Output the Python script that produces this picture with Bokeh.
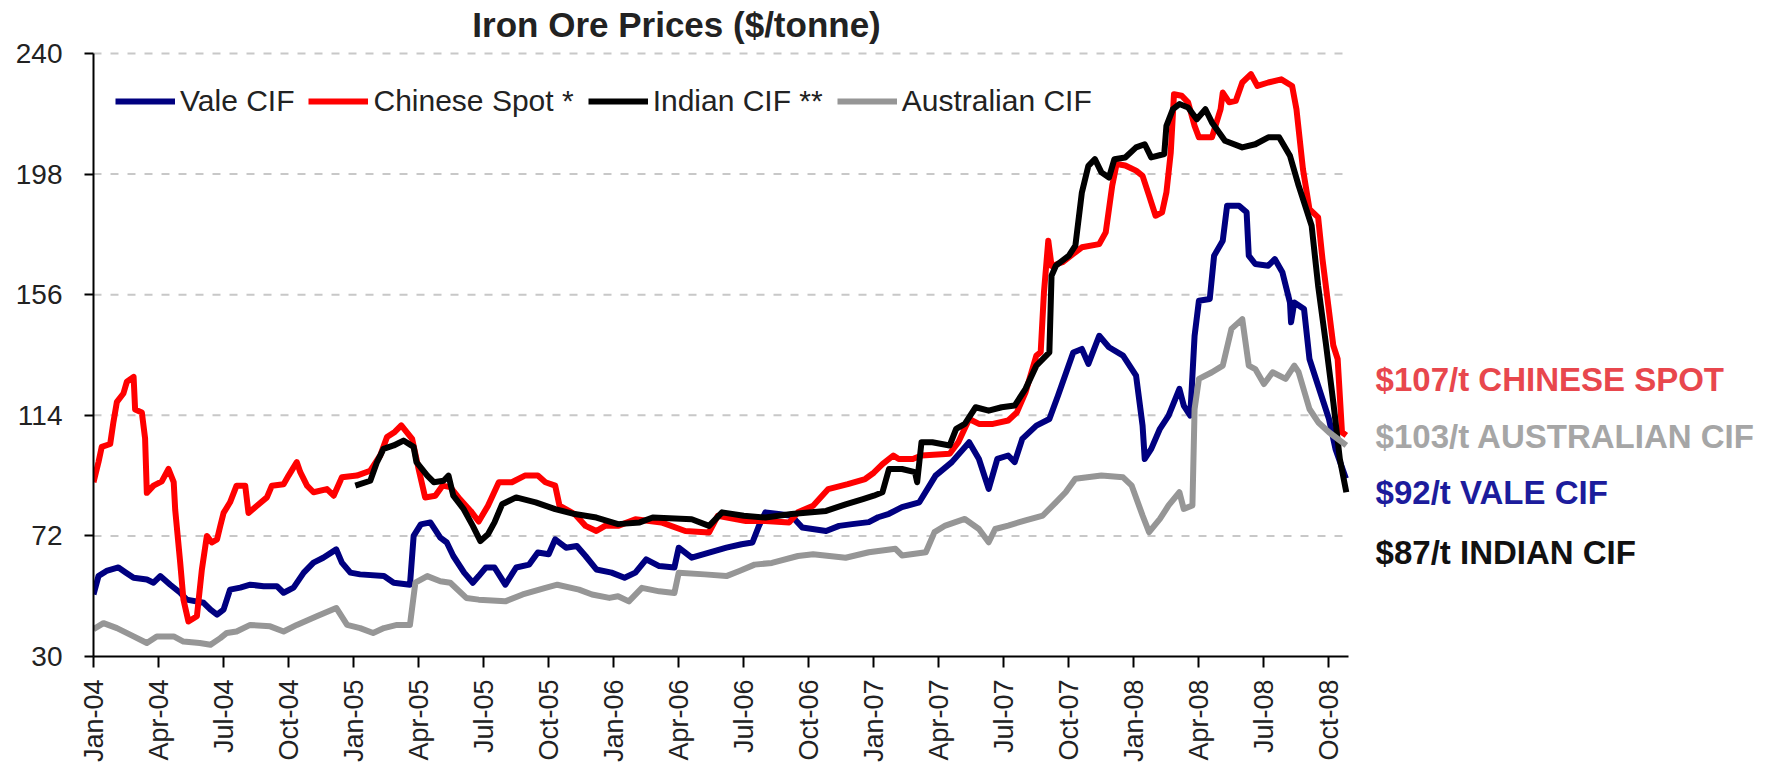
import math
from bokeh.plotting import figure
from bokeh.models import Range1d, FixedTicker, Label, Legend, LegendItem
from bokeh.embed import file_html
from bokeh.resources import INLINE

# ---------------- data (x = months since Jan-2004) ----------------
tick_months = [0, 3, 6, 9, 12, 15, 18, 21, 24, 27, 30, 33, 36, 39, 42, 45, 48, 51, 54, 57]
tick_labels = ["Jan-04", "Apr-04", "Jul-04", "Oct-04", "Jan-05", "Apr-05", "Jul-05", "Oct-05",
               "Jan-06", "Apr-06", "Jul-06", "Oct-06", "Jan-07", "Apr-07", "Jul-07", "Oct-07",
               "Jan-08", "Apr-08", "Jul-08", "Oct-08"]
y_ticks = [30, 72, 114, 156, 198, 240]

vale_t = [0, 0.23, 0.6, 1.15, 1.5, 1.85, 2.46, 2.77, 3.08, 3.54, 4.0, 4.3, 5.08, 5.4, 5.7, 6.0, 6.3,
          6.77, 7.23, 7.85, 8.46, 8.77, 9.23, 9.7, 10.15, 10.6, 11.2, 11.46, 11.85, 12.3, 13.4, 13.85,
          14.6, 14.77, 15.1, 15.54, 16.0, 16.3, 16.6, 17.1, 17.5, 17.77, 18.1, 18.5, 19.0, 19.5, 20.1,
          20.5, 21.0, 21.3, 21.8, 22.3, 22.7, 23.2, 23.9, 24.5, 25.0, 25.5, 26.1, 26.8, 27.0, 27.6,
          28.4, 29.2, 29.9, 30.4, 30.7, 31.0, 31.6, 32.2, 32.7, 33.8, 34.4, 35.0, 35.77, 36.2, 36.7,
          37.3, 38.1, 38.85, 39.6, 40.4, 40.85, 41.3, 41.7, 42.2, 42.5, 42.85, 43.5, 44.1, 44.5,
          45.2, 45.6, 45.9, 46.4, 46.85, 47.5, 48.1, 48.4, 48.5, 48.8, 49.2, 49.6, 50.1, 50.3, 50.6,
          50.8, 51.0, 51.5, 51.7, 52.1, 52.3, 52.85, 53.2, 53.3, 53.6, 54.2, 54.5, 54.85, 55.2,
          55.25, 55.4, 55.85, 56.1, 56.5, 57.0, 57.3, 57.78]
vale_v = [51.6, 58, 59.8, 61, 59.2, 57.4, 56.8, 55.7, 58, 55, 52.2, 49.8, 48.7, 46.3, 44.6, 46.3, 53.3,
          54, 55, 54.5, 54.5, 52.2, 54, 59.2, 62.7, 64.4, 67.3, 62.7, 59.2, 58.6, 58, 55.7,
          55, 72, 76, 76.7, 71.4, 69.7, 65, 59.2, 55.7, 58, 61, 61, 55, 61, 62,
          66.2, 65.6, 70.8, 67.9, 68.5, 65, 60.3, 59.2, 57.4, 59.2, 63.8, 61.5, 61, 67.9, 64.4,
          66.2, 67.9, 69.1, 69.7, 75.5, 80.2, 79.6, 79, 74.9, 73.7, 75.5, 76.1, 76.8, 78.5, 79.7,
          82, 83.7, 93, 97.7, 104.6, 98.8, 88.4, 98.8, 100, 97.7, 105.8, 110.4, 112.7, 120.9,
          135.9, 137.1, 131.9, 141.7, 137.7, 134.8, 127.8, 110.4, 98.8, 102.3, 109.3, 113.9, 123.2, 117.4, 113.9,
          141.7, 153.9, 154.5, 169.6, 174.8, 187, 187, 184.7, 169.6, 166.7, 166.1, 168.4, 163.8, 153.3,
          146.4, 153.3, 151, 133.6, 124.3, 112.7, 102.3, 92]

chinese_t = [0, 0.23, 0.38, 0.77, 0.92, 1.08, 1.38, 1.54, 1.85, 1.92, 2.23, 2.38, 2.46, 2.77, 3.15, 3.46,
             3.7, 3.77, 4.0, 4.15, 4.38, 4.77, 5.0, 5.23, 5.46, 5.7, 5.85, 6.0, 6.3, 6.6, 7.0, 7.15,
             7.54, 8.0, 8.23, 8.77, 9.0, 9.38, 9.54, 9.85, 10.15, 10.77, 11.08, 11.46, 12.15, 12.77,
             13.23, 13.54, 13.9, 14.2, 14.7, 15.0, 15.3, 15.77, 16.1, 16.46, 16.9, 17.4, 17.77, 18.2,
             18.7, 19.3, 19.9, 20.5, 20.85, 21.3, 21.5, 22.2, 22.7, 23.2, 23.6, 24.2, 25.0, 26.2,
             27.3, 28.4, 28.8, 30.1, 31.0, 32.1, 32.5, 33.2, 33.9, 34.8, 35.6, 36.0, 36.4, 36.9,
             37.15, 37.8, 38.2, 39.5, 39.9, 40.4, 40.85, 41.5, 42.2, 42.6, 43.0, 43.5, 43.7, 43.85,
             44.05, 44.2, 44.7, 45.2, 45.6, 46.4, 46.7, 46.85, 47.0, 47.2, 47.6, 48.1, 48.4, 48.7,
             49.0, 49.3, 49.5, 49.7, 49.85, 50.2, 50.5, 50.8, 51.0, 51.6, 52.0, 52.1, 52.4, 52.7,
             53.0, 53.4, 53.7, 54.2, 54.8, 55.3, 55.5, 55.8, 56.1, 56.5, 56.7, 57.2, 57.4, 57.6, 57.8]
chinese_v = [90.7, 97.7, 103, 104, 111.7, 118.7, 121.6, 125.7, 127.4, 116, 115, 106, 87, 89.5, 91, 95.3,
             90.7, 81, 62.7, 49.8, 42.2, 44, 60.3, 72, 69.7, 70.8, 75.5, 80, 83.7, 89.5, 89.5, 80,
             82.5, 85.4, 89.5, 90, 93, 97.7, 94.2, 89.5, 87.2, 88.3, 86, 92.4, 93, 94.7,
             100, 106.4, 108.2, 110.5, 105.8, 95.3, 85.4, 86, 89.5, 89, 84.8, 80.7, 77, 82.5,
             90.7, 90.7, 93, 93, 90.7, 89.5, 82.5, 79.6, 75.5, 73.7, 75.5, 75.5, 77.8, 76.7,
             73.7, 73.2, 79, 77.2, 77.2, 76.7, 80.2, 82.5, 88.3, 90, 91.8, 94, 97, 100,
             98.8, 98.8, 100, 100.6, 104.6, 112.7, 111, 111, 112.2, 115, 122, 134.8, 136, 156.8,
             174.8, 166, 167.3, 170.2, 172.5, 173.6, 177.7, 185.8, 194, 201.5, 201, 199.2, 197.4, 190.5,
             183.5, 184.7, 191.6, 205.5, 225.8, 225.3, 223, 214.8, 210.8, 210.8, 220.6, 226.4, 223, 223.5,
             229.9, 232.8, 228.7, 229.9, 231, 228.7, 220.6, 199.7, 185.8, 182.9, 168.4, 138.3, 133.6, 108.1, 107]

indian_t = [12.08, 12.77, 13.08, 13.38, 13.85, 14.3, 14.77, 14.9, 15.4, 15.7, 16.15, 16.38, 16.6, 17.08,
            17.5, 17.85, 18.2, 18.5, 18.85, 19.5, 20.4, 21.3, 22.2, 23.2, 24.2, 25.2, 25.8, 27.6,
            28.4, 29.0, 30.0, 31.0, 32.2, 33.8, 34.7, 35.5, 36.0, 36.4, 36.7, 37.3, 37.9, 38.0,
            38.2, 38.7, 39.5, 39.8, 40.2, 40.7, 41.3, 41.9, 42.5, 43.0, 43.5, 44.1, 44.2, 44.4,
            45.0, 45.3, 45.6, 45.9, 46.2, 46.5, 46.85, 47.1, 47.6, 48.1, 48.5, 48.8, 49.4, 49.5,
            49.8, 50.1, 50.5, 50.9, 51.3, 51.6, 52.2, 53.0, 53.6, 54.2, 54.7, 55.2, 55.6, 56.2,
            56.5, 56.85, 57.2, 57.5, 57.8]
indian_v = [89.5, 91.2, 97.7, 102.3, 103.5, 105.2, 103, 97.7, 93, 90.7, 91.2, 93, 86, 81.3,
            75.5, 70.2, 72.6, 76.7, 83, 85.4, 83.7, 81.3, 79.6, 78.4, 76.1, 76.7, 78.4, 77.8,
            75.5, 80.2, 79, 78.4, 79.6, 80.7, 83, 84.8, 86, 87.2, 95.3, 95.3, 94.2, 90.7,
            104.6, 104.6, 103.5, 109.3, 111, 116.8, 115.6, 116.8, 117.4, 123.2, 131.3, 135.9, 162.6, 166.1,
            169.6, 173.1, 191.6, 200.9, 203.2, 198.6, 196.8, 203.2, 203.8, 207.3, 208.4, 203.8, 205, 214.8,
            220.6, 222.4, 221.2, 217.1, 220.6, 216, 209.6, 207.3, 208.4, 210.8, 210.8, 204.4, 194, 180,
            159.1, 139.4, 118.5, 98.8, 87.2]

australian_t = [0, 0.46, 1.08, 1.85, 2.46, 2.92, 3.7, 4.15, 4.9, 5.4, 5.85, 6.15, 6.6, 7.23, 8.15, 8.77,
                9.38, 10.3, 11.2, 11.7, 12.3, 12.9, 13.4, 14.0, 14.6, 14.85, 15.4, 16.0, 16.46, 17.2,
                17.77, 19.0, 19.8, 20.85, 21.4, 22.4, 23.0, 23.8, 24.2, 24.7, 25.3, 26.1, 26.8, 27.0,
                28.2, 29.2, 29.8, 30.5, 31.3, 32.5, 33.2, 34.7, 35.77, 37.0, 37.3, 38.4, 38.8, 39.3,
                40.2, 40.85, 41.3, 41.6, 42.2, 43.0, 43.8, 44.4, 44.85, 45.3, 46.5, 47.5, 47.9, 48.4,
                48.7, 49.2, 49.6, 50.1, 50.3, 50.7, 50.8, 51.0, 51.6, 52.1, 52.5, 53.0, 53.3, 53.6,
                54.0, 54.4, 55.0, 55.4, 55.6, 56.1, 56.5, 57.0, 57.8]
australian_v = [39.5, 41.6, 39.9, 37, 34.7, 37, 37, 35.2, 34.7, 34.1, 36.4, 38.2, 38.7, 41, 40.5, 38.7,
                41, 44, 46.9, 41, 39.9, 38.2, 39.9, 41, 41, 55.7, 58, 56.2, 55.7, 50.4,
                49.8, 49.2, 51.6, 53.9, 55, 53.3, 51.6, 50.4, 51, 49.2, 53.9, 52.7, 52.1, 59.2,
                58.6, 58, 59.8, 62, 62.6, 65, 65.6, 64.4, 66.3, 67.5, 65.2, 66.3, 73.3, 75.6,
                77.9, 74.4, 69.8, 74.4, 75.6, 77.4, 79.1, 83.7, 87.2, 91.9, 93, 92.4, 89.5, 79.1,
                73.3, 77.9, 82.6, 87.2, 81.4, 82.6, 116.2, 126.7, 129, 131.3, 144.1, 147.5, 131.3, 130.1,
                124.9, 129, 126.7, 131.3, 129, 116.2, 111.6, 108.1, 103.5]

series_names = ["Vale CIF", "Chinese Spot *", "Indian CIF **", "Australian CIF"]
end_labels = ["$107/t CHINESE SPOT", "$103/t AUSTRALIAN CIF", "$92/t VALE CIF", "$87/t INDIAN CIF"]
title_text = "Iron Ore Prices ($/tonne)"

# ---------------- styles / layout ----------------
FONT = "Liberation Sans, Arial, sans-serif"
line_colors = ["#000080", "#ff0000", "#000000", "#969696"]
end_label_colors = ["#e8474d", "#a6a6a6", "#1c1c9c", "#111111"]

X_END = 57.9          # right end of the axis / gridlines (months)
Y_MIN, Y_MAX = 30, 240
PX_PER_MONTH = 21.675
PX_PER_UNIT = 603 / 210.0
FRAME_LEFT, FRAME_RIGHT, FRAME_BOTTOM, FRAME_TOP_PAD = 93, 1765, 656, 53
W, H = 1770, 769

# frame spans the whole canvas top and the right annotation area; axes/grid are bounded
x_view_end = (FRAME_RIGHT - FRAME_LEFT) / PX_PER_MONTH
y_view_top = Y_MAX + FRAME_TOP_PAD / PX_PER_UNIT

end_label_x = 59.15
end_label_y = [126.6, 106.5, 87.0, 66.2]       # layout positions (value-axis units)
title_x, title_y = 26.9, 250.1

p = figure(width=W, height=H, output_backend="svg", toolbar_location=None,
           x_range=Range1d(0, x_view_end), y_range=Range1d(Y_MIN, y_view_top),
           min_border_left=FRAME_LEFT, min_border_right=W - FRAME_RIGHT,
           min_border_top=0, min_border_bottom=H - FRAME_BOTTOM)
p.outline_line_color = None
p.background_fill_color = "white"
p.border_fill_color = "white"

# dashed horizontal gridlines limited to the plotted span
grid_y = y_ticks[1:]
p.segment(x0=[0] * len(grid_y), x1=[X_END] * len(grid_y), y0=grid_y, y1=grid_y,
          line_color="#c8c8c8", line_width=2, line_dash="8 9")

renderers = []
for t, v, c in zip([vale_t, chinese_t, indian_t, australian_t],
                   [vale_v, chinese_v, indian_v, australian_v], line_colors):
    r = p.line(t, v, line_color=c, line_width=6, line_join="round")
    renderers.append(r)

# axes
p.xaxis.ticker = FixedTicker(ticks=tick_months)
p.xaxis.major_label_overrides = {m: s for m, s in zip(tick_months, tick_labels)}
p.xaxis.major_label_orientation = math.pi / 2
p.xaxis.bounds = (0, X_END)
p.yaxis.ticker = FixedTicker(ticks=y_ticks)
p.yaxis.bounds = (Y_MIN, Y_MAX)
for ax in (p.xaxis[0], p.yaxis[0]):
    ax.axis_line_color = "black"
    ax.axis_line_width = 2
    ax.major_tick_line_color = "black"
    ax.major_tick_line_width = 2
    ax.major_tick_in = 0
    ax.minor_tick_line_color = None
    ax.major_label_text_font = FONT
    ax.major_label_text_color = "#222222"
p.xaxis.major_tick_out = 11
p.xaxis.major_label_standoff = 12
p.xaxis.major_label_text_font_size = "27px"
p.yaxis.major_tick_out = 9
p.yaxis.major_label_standoff = 22
p.yaxis.major_label_text_font_size = "28px"

p.xgrid.grid_line_color = None
p.ygrid.grid_line_color = None

# legend
legend = Legend(items=[LegendItem(label=n, renderers=[r]) for n, r in zip(series_names, renderers)],
                orientation="horizontal", location=(22, 538),
                glyph_width=60, glyph_height=30, label_standoff=5, spacing=14,
                padding=0, margin=0, border_line_color=None, background_fill_alpha=0,
                label_text_font=FONT, label_text_font_size="30px", label_text_color="#222222")
p.add_layout(legend)

# title
p.add_layout(Label(x=title_x, y=title_y, text=title_text, text_align="center",
                   text_baseline="middle", text_font=FONT, text_font_size="35px",
                   text_font_style="bold", text_color="#222222"))

# end-value labels
for txt, col, yy in zip(end_labels, end_label_colors, end_label_y):
    p.add_layout(Label(x=end_label_x, y=yy, text=txt, text_align="left", text_baseline="middle",
                       text_font=FONT, text_font_size="33px", text_font_style="bold",
                       text_color=col))

open("out.html", "w").write(file_html(p, INLINE))
